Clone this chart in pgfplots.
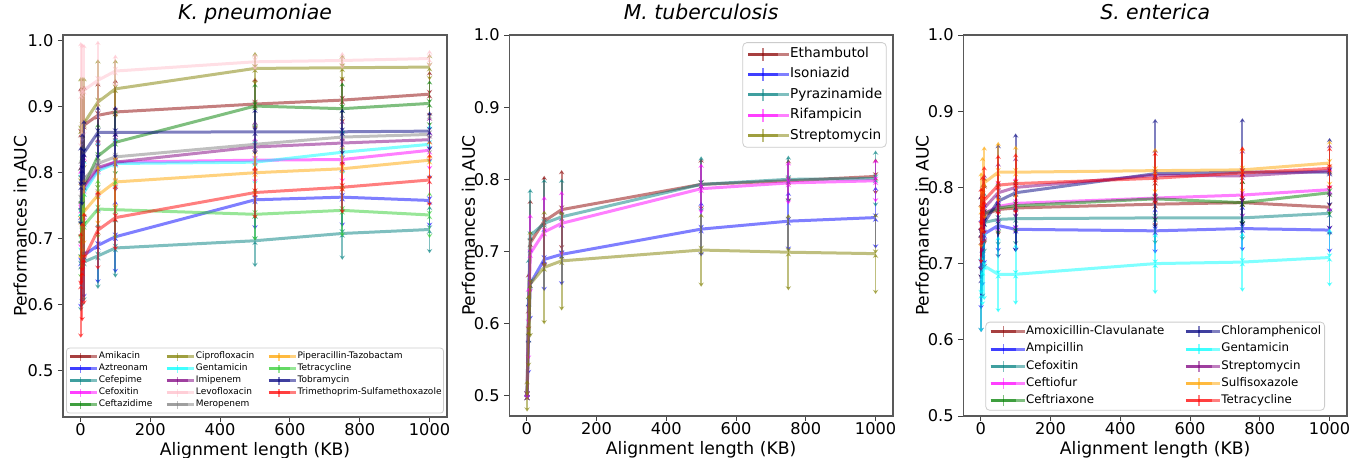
\documentclass[border=0pt]{standalone}
\usepackage{fontspec}
\setmainfont{DejaVu Sans}
\usepackage{pgfplots}
\usepackage{pgfplotstable}
\pgfplotsset{compat=1.18}
\usetikzlibrary{arrows.meta}

\definecolor{cdarkred}{RGB}{139,0,0}
\definecolor{cblue}{RGB}{0,0,255}
\definecolor{cteal}{RGB}{0,128,128}
\definecolor{cmagenta}{RGB}{255,0,255}
\definecolor{cgreen}{RGB}{0,128,0}
\definecolor{colive}{RGB}{128,128,0}
\definecolor{ccyan}{RGB}{0,255,255}
\definecolor{cpurple}{RGB}{128,0,128}
\definecolor{cpink}{RGB}{255,192,203}
\definecolor{cgray}{RGB}{128,128,128}
\definecolor{corange}{RGB}{255,165,0}
\definecolor{clime}{RGB}{50,205,50}
\definecolor{cnavy}{RGB}{0,0,128}
\definecolor{cred}{RGB}{255,0,0}

% K. pneumoniae
\pgfplotstableread{
x Ami eAmi Azt eAzt Cfp eCfp Cfx eCfx Cfz eCfz Cip eCip Gen eGen Imi eImi Lev eLev Mer eMer Pip ePip Tet eTet Tob eTob Tri eTri
1 0.860 0.07 0.665 0.07 0.660 0.07 0.745 0.06 0.740 0.07 0.865 0.08 0.740 0.06 0.750 0.06 0.918 0.08 0.760 0.06 0.728 0.06 0.700 0.06 0.780 0.06 0.630 0.08
5 0.866 0.065 0.670 0.068 0.662 0.065 0.760 0.055 0.760 0.065 0.870 0.075 0.755 0.055 0.765 0.055 0.921 0.075 0.775 0.055 0.734 0.055 0.710 0.055 0.805 0.055 0.650 0.075
10 0.872 0.06 0.675 0.065 0.665 0.06 0.775 0.05 0.780 0.06 0.875 0.07 0.770 0.05 0.780 0.05 0.925 0.07 0.790 0.05 0.741 0.05 0.720 0.05 0.830 0.05 0.670 0.07
50 0.887 0.05 0.690 0.058 0.674 0.05 0.805 0.045 0.825 0.05 0.907 0.065 0.803 0.045 0.808 0.045 0.940 0.06 0.814 0.045 0.766 0.045 0.745 0.045 0.861 0.04 0.713 0.06
100 0.892 0.05 0.703 0.055 0.686 0.045 0.816 0.04 0.846 0.05 0.927 0.045 0.814 0.04 0.816 0.045 0.954 0.025 0.824 0.04 0.786 0.04 0.744 0.045 0.861 0.04 0.732 0.05
500 0.904 0.04 0.759 0.045 0.697 0.04 0.819 0.035 0.901 0.035 0.958 0.025 0.816 0.035 0.839 0.04 0.968 0.013 0.843 0.035 0.800 0.035 0.737 0.04 0.862 0.035 0.770 0.04
750 0.910 0.035 0.763 0.045 0.708 0.04 0.820 0.035 0.897 0.04 0.959 0.02 0.831 0.035 0.845 0.035 0.970 0.013 0.854 0.035 0.806 0.035 0.743 0.04 0.862 0.035 0.778 0.04
1000 0.919 0.035 0.758 0.04 0.714 0.036 0.834 0.03 0.905 0.035 0.960 0.02 0.843 0.03 0.850 0.035 0.973 0.013 0.858 0.03 0.819 0.03 0.736 0.035 0.863 0.03 0.789 0.04
}\tabK

% M. tuberculosis
\pgfplotstableread{
x Eth eEth Iso eIso Pyr ePyr Rif eRif Str eStr
1 0.500 0.005 0.500 0.005 0.500 0.005 0.500 0.005 0.500 0.022
5 0.620 0.05 0.580 0.05 0.630 0.06 0.600 0.05 0.590 0.05
10 0.712 0.06 0.655 0.05 0.722 0.065 0.697 0.055 0.655 0.074
50 0.742 0.063 0.689 0.044 0.739 0.062 0.727 0.05 0.678 0.079
100 0.758 0.055 0.696 0.043 0.748 0.053 0.739 0.045 0.687 0.069
500 0.793 0.036 0.731 0.038 0.793 0.039 0.787 0.035 0.702 0.051
750 0.798 0.03 0.742 0.041 0.800 0.033 0.795 0.03 0.699 0.053
1000 0.804 0.025 0.747 0.043 0.801 0.039 0.798 0.03 0.697 0.056
}\tabM

% S. enterica
\pgfplotstableread{
x Amo eAmo Amp eAmp Cfx eCfx Cft eCft Cfr eCfr Chl eChl Gen eGen Str eStr Sul eSul Tet eTet
1 0.730 0.05 0.700 0.06 0.740 0.05 0.740 0.05 0.740 0.05 0.680 0.07 0.660 0.05 0.740 0.05 0.770 0.05 0.750 0.05
5 0.750 0.045 0.720 0.05 0.748 0.045 0.755 0.045 0.755 0.045 0.720 0.065 0.690 0.045 0.760 0.045 0.790 0.05 0.770 0.045
10 0.764 0.04 0.739 0.04 0.754 0.04 0.766 0.04 0.766 0.04 0.754 0.06 0.697 0.045 0.773 0.045 0.806 0.048 0.783 0.045
50 0.771 0.035 0.750 0.035 0.758 0.035 0.775 0.035 0.773 0.035 0.782 0.075 0.686 0.05 0.793 0.04 0.820 0.04 0.803 0.04
100 0.773 0.035 0.745 0.03 0.759 0.035 0.779 0.035 0.776 0.035 0.793 0.078 0.686 0.04 0.800 0.04 0.820 0.035 0.805 0.04
500 0.778 0.03 0.743 0.03 0.760 0.035 0.786 0.03 0.785 0.03 0.818 0.072 0.700 0.04 0.816 0.035 0.822 0.03 0.812 0.035
750 0.780 0.03 0.746 0.03 0.760 0.03 0.790 0.03 0.780 0.03 0.820 0.071 0.702 0.039 0.815 0.035 0.823 0.03 0.819 0.035
1000 0.774 0.03 0.744 0.03 0.766 0.03 0.797 0.03 0.793 0.03 0.820 0.045 0.708 0.038 0.822 0.035 0.832 0.03 0.825 0.028
}\tabS

\pgfplotsset{
  base/.style={
    scale only axis,
    xmin=-50, xmax=1050,
    xtick={0,200,400,600,800,1000},
    ytick={0.5,0.6,0.7,0.8,0.9,1.0},
    xticklabel style={/pgf/number format/1000 sep={}, yshift=3pt},
    yticklabel style={/pgf/number format/fixed, /pgf/number format/fixed zerofill, /pgf/number format/precision=1, xshift=1.2pt},
    /pgf/number format/assume math mode=true,
    xtick pos=left, ytick pos=left,
    tick align=outside, major tick length=2.5pt,
    tick style={black!75, line width=0.5pt},
    axis line style={black!65, line width=0.6pt},
    ticklabel style={font=\fontsize{8.1}{9.5}\selectfont},
    title style={at={(axis description cs:0.5,1)}, anchor=base, yshift=1.75pt, font=\fontsize{10.2}{12}\selectfont\itshape},
    xlabel style={at={(axis description cs:0.5,0)}, anchor=base, yshift=-19pt, font=\fontsize{8.6}{10}\selectfont},
    ylabel style={anchor=center, font=\fontsize{8.6}{10}\selectfont},
    xlabel={Alignment length (KB)},
    ylabel={Performances in AUC},
    legend cell align=left,
    every axis plot/.append style={line width=1.5pt, opacity=0.5},
  },
  eb/.style={error bars/.cd, y dir=both, y explicit, error mark=none,
    error bar style={line width=0.9pt, opacity=0.5, >={Stealth[length=2.2pt,width=2.8pt]}, <->}},
  ebleg/.style n args={3}{legend image code/.code={%
     \draw[##1, line width=1.5pt] (0pt,0pt) -- (#1,0pt);
     \draw[##1, line width=0.9pt] (0.5*#1,-#3) -- (0.5*#1,#3);
     \path (0pt,0pt) -- (#1+#2,0pt);
  }},
}

\begin{document}
\begin{tikzpicture}
\useasboundingbox (0,0) rectangle (676pt,228.5pt);

% ---------- K. pneumoniae ----------
\begin{axis}[base, at={(31.5pt,20pt)}, anchor=south west,
  width=192pt, height=191pt,
  ymin=0.43, ymax=1.0086,
  title={K. pneumoniae},
  ylabel style={at={(axis description cs:-0.1115,0.5)}},
  ebleg={10.5pt}{3.2pt}{2.0pt},
  transpose legend, legend columns=5,
  legend style={at={(0.5,0.0092)}, anchor=south, font=\fontsize{4.5}{5.4}\selectfont,
    draw=black!20, rounded corners=1.5pt, fill=white, fill opacity=0.8, text opacity=1,
    inner xsep=1pt, inner ysep=1.8pt, row sep=1.1pt, column sep=0pt,
    nodes={inner sep=0pt, text height=3.4pt, text depth=1.1pt},
    /tikz/every even column/.append style={column sep=6.5pt}},
]
\addplot[cdarkred, eb] table[x=x, y=Ami, y error=eAmi] {\tabK};
\addlegendentry{Amikacin}
\addplot[cblue, eb] table[x=x, y=Azt, y error=eAzt] {\tabK};
\addlegendentry{Aztreonam}
\addplot[cteal, eb] table[x=x, y=Cfp, y error=eCfp] {\tabK};
\addlegendentry{Cefepime}
\addplot[cmagenta, eb] table[x=x, y=Cfx, y error=eCfx] {\tabK};
\addlegendentry{Cefoxitin}
\addplot[cgreen, eb] table[x=x, y=Cfz, y error=eCfz] {\tabK};
\addlegendentry{Ceftazidime}
\addplot[colive, eb] table[x=x, y=Cip, y error=eCip] {\tabK};
\addlegendentry{Ciprofloxacin}
\addplot[ccyan, eb] table[x=x, y=Gen, y error=eGen] {\tabK};
\addlegendentry{Gentamicin}
\addplot[cpurple, eb] table[x=x, y=Imi, y error=eImi] {\tabK};
\addlegendentry{Imipenem}
\addplot[cpink, eb] table[x=x, y=Lev, y error=eLev] {\tabK};
\addlegendentry{Levofloxacin}
\addplot[cgray, eb] table[x=x, y=Mer, y error=eMer] {\tabK};
\addlegendentry{Meropenem}
\addplot[corange, eb] table[x=x, y=Pip, y error=ePip] {\tabK};
\addlegendentry{Piperacillin-Tazobactam}
\addplot[clime, eb] table[x=x, y=Tet, y error=eTet] {\tabK};
\addlegendentry{Tetracycline}
\addplot[cnavy, eb] table[x=x, y=Tob, y error=eTob] {\tabK};
\addlegendentry{Tobramycin}
\addplot[cred, eb] table[x=x, y=Tri, y error=eTri] {\tabK};
\addlegendentry{Trimethoprim-Sulfamethoxazole}
\end{axis}

% ---------- M. tuberculosis ----------
\begin{axis}[base, at={(254.65pt,20.5pt)}, anchor=south west,
  width=191.85pt, height=190.5pt,
  ymin=0.472, ymax=1.0,
  title={M. tuberculosis},
  ylabel style={at={(axis description cs:-0.1063,0.5)}},
  ebleg={15pt}{5.15pt}{3.2pt},
  legend style={at={(0.9833,0.981)}, anchor=north east, font=\fontsize{6.8}{8.2}\selectfont,
    draw=black!20, rounded corners=2pt, fill=white, fill opacity=0.8, text opacity=1,
    inner xsep=2pt, inner ysep=2.1pt, row sep=2.9pt, column sep=0pt,
    nodes={inner sep=0pt, text height=5.1pt, text depth=1.7pt}},
]
\addplot[cdarkred, eb] table[x=x, y=Eth, y error=eEth] {\tabM};
\addlegendentry{Ethambutol}
\addplot[cblue, eb] table[x=x, y=Iso, y error=eIso] {\tabM};
\addlegendentry{Isoniazid}
\addplot[cteal, eb] table[x=x, y=Pyr, y error=ePyr] {\tabM};
\addlegendentry{Pyrazinamide}
\addplot[cmagenta, eb] table[x=x, y=Rif, y error=eRif] {\tabM};
\addlegendentry{Rifampicin}
\addplot[colive, eb] table[x=x, y=Str, y error=eStr] {\tabM};
\addlegendentry{Streptomycin}
\end{axis}

% ---------- S. enterica ----------
\begin{axis}[base, at={(481.65pt,20.5pt)}, anchor=south west,
  width=191.85pt, height=190.5pt,
  ymin=0.5, ymax=1.0,
  title={S. enterica},
  ylabel style={at={(axis description cs:-0.107,0.5)}},
  ebleg={12.8pt}{4.2pt}{2.7pt},
  transpose legend, legend columns=5,
  legend style={at={(0.5,0.0139)}, anchor=south, font=\fontsize{5.9}{7.1}\selectfont,
    draw=black!20, rounded corners=2pt, fill=white, fill opacity=0.8, text opacity=1,
    inner xsep=1.7pt, inner ysep=1.7pt, row sep=2.3pt, column sep=0pt,
    nodes={inner sep=0pt, text height=4.4pt, text depth=1.5pt},
    /tikz/every even column/.append style={column sep=10pt}},
]
\addplot[cdarkred, eb] table[x=x, y=Amo, y error=eAmo] {\tabS};
\addlegendentry{Amoxicillin-Clavulanate}
\addplot[cblue, eb] table[x=x, y=Amp, y error=eAmp] {\tabS};
\addlegendentry{Ampicillin}
\addplot[cteal, eb] table[x=x, y=Cfx, y error=eCfx] {\tabS};
\addlegendentry{Cefoxitin}
\addplot[cmagenta, eb] table[x=x, y=Cft, y error=eCft] {\tabS};
\addlegendentry{Ceftiofur}
\addplot[cgreen, eb] table[x=x, y=Cfr, y error=eCfr] {\tabS};
\addlegendentry{Ceftriaxone}
\addplot[cnavy, eb] table[x=x, y=Chl, y error=eChl] {\tabS};
\addlegendentry{Chloramphenicol}
\addplot[ccyan, eb] table[x=x, y=Gen, y error=eGen] {\tabS};
\addlegendentry{Gentamicin}
\addplot[cpurple, eb] table[x=x, y=Str, y error=eStr] {\tabS};
\addlegendentry{Streptomycin}
\addplot[corange, eb] table[x=x, y=Sul, y error=eSul] {\tabS};
\addlegendentry{Sulfisoxazole}
\addplot[cred, eb] table[x=x, y=Tet, y error=eTet] {\tabS};
\addlegendentry{Tetracycline}
\end{axis}
\end{tikzpicture}
\end{document}
